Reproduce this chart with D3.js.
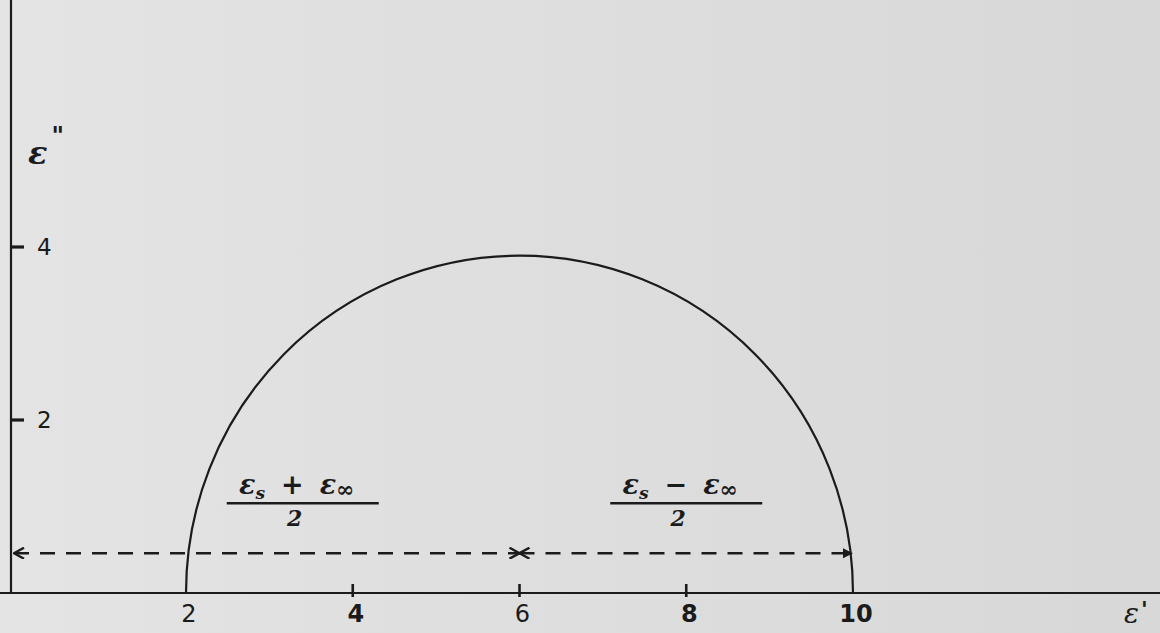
<!DOCTYPE html>
<html>
<head>
<meta charset="utf-8">
<script src="https://cdn.jsdelivr.net/npm/d3@7/dist/d3.min.js"></script>
<style>
  html, body { margin: 0; padding: 0; background: #dedede; }
  svg { display: block; }
</style>
</head>
<body>
<div id="chart"></div>
<script>
// Cole–Cole plot of a single Debye relaxation: ε'' against ε'
const xTicks = [2, 4, 6, 8, 10];
const yTicks = [2, 4];
const epsInf = 2;        // high-frequency permittivity ε∞
const epsS = 10;         // static permittivity εs
const lossPeak = 3.9;    // height of the drawn semicircle
const arrowLevel = 0.46; // ε'' at which the dimension arrows run

const W = 1160, H = 633;
const axisLeft = 11;

const x = d3.scaleLinear().domain([2, 10]).range([186, 853]);
const y = d3.scaleLinear().domain([0, 4]).range([593, 247]);

const svg = d3.select("#chart").append("svg")
  .attr("width", W).attr("height", H);

const defs = svg.append("defs");
const grad = defs.append("linearGradient").attr("id", "paper")
  .attr("x1", "0").attr("x2", "1").attr("y1", "0").attr("y2", "0");
grad.append("stop").attr("offset", "0").attr("stop-color", "#e4e4e4");
grad.append("stop").attr("offset", "0.55").attr("stop-color", "#dddddd");
grad.append("stop").attr("offset", "1").attr("stop-color", "#d8d8d8");

// open chevron heads for the dashed dimension arrows
defs.append("marker").attr("id", "open")
  .attr("viewBox", "0 0 12 12").attr("refX", 11).attr("refY", 6)
  .attr("markerWidth", 12).attr("markerHeight", 12)
  .attr("markerUnits", "userSpaceOnUse")
  .attr("orient", "auto-start-reverse")
  .append("path").attr("d", "M1,0.5 L11,6 L1,11.5")
  .attr("fill", "none").attr("stroke", "#1b1b1b").attr("stroke-width", 2.4);
defs.append("marker").attr("id", "solid")
  .attr("viewBox", "0 0 12 12").attr("refX", 11).attr("refY", 6)
  .attr("markerWidth", 12).attr("markerHeight", 12)
  .attr("markerUnits", "userSpaceOnUse")
  .attr("orient", "auto")
  .append("path").attr("d", "M1,1 L11,6 L1,11 Z").attr("fill", "#1b1b1b");

svg.append("rect").attr("width", W).attr("height", H).attr("fill", "url(#paper)");

const ink = "#1b1b1b";
const g = svg.append("g");

// axes
g.append("line").attr("x1", axisLeft).attr("x2", axisLeft)
  .attr("y1", 0).attr("y2", y(0))
  .attr("stroke", ink).attr("stroke-width", 2.2);
g.append("line").attr("x1", 0).attr("x2", W)
  .attr("y1", y(0)).attr("y2", y(0))
  .attr("stroke", ink).attr("stroke-width", 2.2);

// y ticks
g.selectAll(".ytick").data(yTicks).join("line")
  .attr("x1", axisLeft).attr("x2", axisLeft + 13)
  .attr("y1", d => y(d)).attr("y2", d => y(d))
  .attr("stroke", ink).attr("stroke-width", 3.2);
g.selectAll(".ylab").data(yTicks).join("text")
  .attr("x", axisLeft + 26).attr("y", d => y(d) + 8)
  .attr("font-family", "DejaVu Sans, sans-serif").attr("font-size", 23)
  .attr("fill", ink).text(d => d);

// x ticks (the 2 and 10 positions are marked by the arc itself)
g.selectAll(".xtick").data(xTicks.filter(d => d > epsInf && d < epsS)).join("line")
  .attr("x1", d => x(d)).attr("x2", d => x(d))
  .attr("y1", y(0) - 9).attr("y2", y(0) + 4)
  .attr("stroke", ink).attr("stroke-width", 2.6);
g.selectAll(".xlab").data(xTicks).join("text")
  .attr("x", d => x(d) + 3).attr("y", y(0) + 29)
  .attr("text-anchor", "middle")
  .attr("font-family", "DejaVu Sans, sans-serif").attr("font-size", 24)
  .attr("font-weight", d => (d === 4 || d === 8 || d === 10) ? "bold" : "normal")
  .attr("fill", ink).text(d => d);

// axis titles
const yTitle = g.append("text").attr("x", 28).attr("y", 164)
  .attr("font-family", "DejaVu Serif, serif").attr("font-style", "italic")
  .attr("font-weight", "bold").attr("font-size", 32).attr("fill", ink);
yTitle.append("tspan").text("ε");
yTitle.append("tspan").attr("dx", 4).attr("dy", -20)
  .attr("font-family", "DejaVu Sans, sans-serif").attr("font-style", "normal")
  .attr("font-size", 24).text("\"");

const xTitle = g.append("text").attr("x", 1124).attr("y", 623)
  .attr("font-family", "DejaVu Serif, serif").attr("font-style", "italic")
  .attr("font-size", 28).attr("fill", ink);
xTitle.append("tspan").text("ε");
xTitle.append("tspan").attr("dx", 2).attr("dy", -6)
  .attr("font-family", "DejaVu Sans, sans-serif").attr("font-style", "normal")
  .attr("font-weight", "bold").attr("font-size", 22).text("'");

// semicircle from ε∞ to εs
const rx = x(epsS) - x((epsS + epsInf) / 2);
const ry = y(0) - y(lossPeak);
g.append("path")
  .attr("d", `M${x(epsInf)},${y(0)} A${rx},${ry} 0 0 1 ${x(epsS)},${y(0)}`)
  .attr("fill", "none").attr("stroke", ink).attr("stroke-width", 2.2);

// dashed dimension arrows
const mid = (epsS + epsInf) / 2;
const spans = [
  { from: 0, to: mid, end: "open" },
  { from: mid, to: epsS, end: "solid" }
];
g.selectAll(".span").data(spans).join("line")
  .attr("x1", d => d.from === 0 ? axisLeft + 3 : x(d.from))
  .attr("x2", d => x(d.to))
  .attr("y1", y(arrowLevel)).attr("y2", y(arrowLevel))
  .attr("stroke", ink).attr("stroke-width", 2.4)
  .attr("stroke-dasharray", "15,11")
  .attr("marker-start", "url(#open)")
  .attr("marker-end", d => `url(#${d.end})`);

// fraction labels over the arrows
const fractions = [
  { at: 3.4, op: "+", barHalf: 76 },
  { at: 8.0, op: "\u2212", barHalf: 76 }
];
const fg = g.selectAll(".frac").data(fractions).join("g")
  .attr("transform", d => `translate(${x(d.at)},${y(arrowLevel) - 50})`);
fg.append("line")
  .attr("x1", d => -d.barHalf).attr("x2", d => d.barHalf)
  .attr("y1", 0).attr("y2", 0)
  .attr("stroke", ink).attr("stroke-width", 2.6);
const num = fg.append("text").attr("x", -6).attr("y", -9).attr("text-anchor", "middle")
  .attr("font-family", "DejaVu Serif, serif").attr("font-style", "italic")
  .attr("font-weight", "bold").attr("font-size", 27).attr("fill", ink);
num.append("tspan").text("ε");
num.append("tspan").attr("dy", 5).attr("font-size", 17).text("s");
num.append("tspan").attr("dy", -5).attr("dx", 16).text(d => d.op);
num.append("tspan").attr("dx", 16).text("ε");
num.append("tspan").attr("dy", 3).attr("font-size", 22).text("∞");
fg.append("text").attr("x", -8).attr("y", 23).attr("text-anchor", "middle")
  .attr("font-family", "DejaVu Serif, serif").attr("font-style", "italic")
  .attr("font-weight", "bold").attr("font-size", 22).attr("fill", ink)
  .text("2");
</script>
</body>
</html>
